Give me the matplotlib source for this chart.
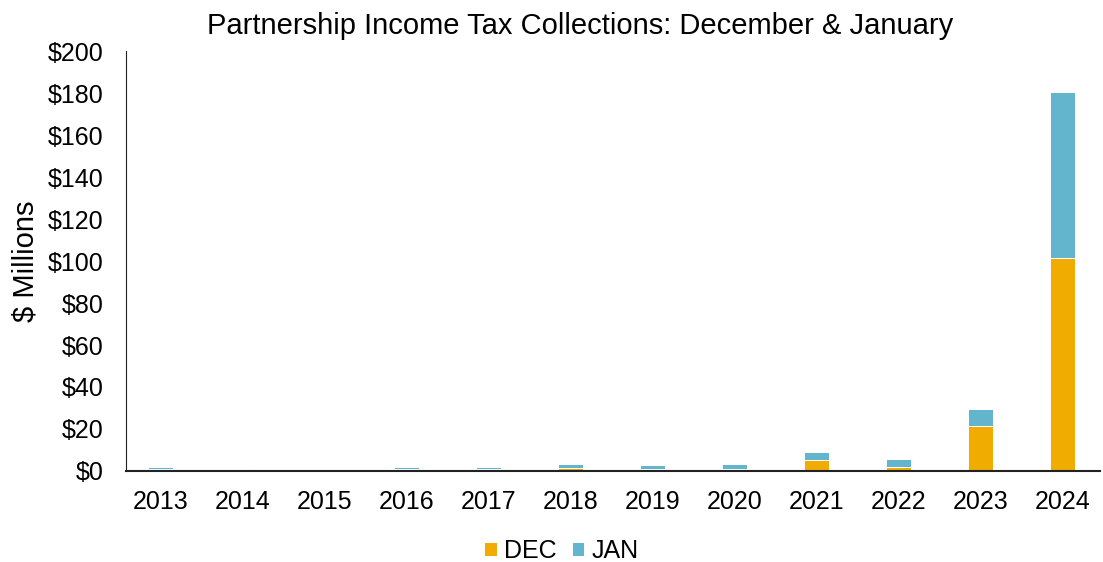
import numpy as np
import matplotlib
matplotlib.use("Agg")
from matplotlib import pyplot as plt

years = ['2013', '2014', '2015', '2016', '2017', '2018', '2019', '2020', '2021', '2022', '2023', '2024']
dec = [0.8, 0.1, 0.9, 0.9, 0.8, 1.3, 1.1, 1.1, 5.4, 1.9, 21.4, 101.4]
jan = [1.2, 0.8, 0.0, 1.1, 1.0, 2.0, 1.8, 2.4, 3.6, 3.8, 8.0, 79.0]

plt.rcParams['font.family'] = ['Liberation Sans', 'DejaVu Sans']

fig = plt.figure(figsize=(11.03, 5.62), dpi=100)
ax = fig.add_axes([0.114, 0.162, 0.883, 0.747])

x = np.arange(len(years))
ax.bar(x, dec, width=0.3, color='#F0AC00', edgecolor='white', linewidth=0.7, label='DEC')
ax.bar(x, jan, width=0.3, bottom=dec, color='#62B5CC', edgecolor='white', linewidth=0.7, label='JAN')

ax.set_xlim(-0.42, 11.45)
ax.set_ylim(0, 200)
ax.set_yticks(range(0, 201, 20))
ax.set_yticklabels(['${}'.format(v) for v in range(0, 201, 20)])
ax.set_xticks(x)
ax.set_xticklabels(years)
ax.tick_params(axis='both', labelsize=18, length=0)
ax.tick_params(axis='x', pad=14)
ax.tick_params(axis='y', pad=16)

for s in ['top', 'right']:
    ax.spines[s].set_visible(False)
ax.spines['left'].set_color('#222222')
ax.spines['bottom'].set_color('#222222')
ax.spines['bottom'].set_linewidth(1.5)

ax.set_ylabel('$ Millions', fontsize=21, labelpad=6)
ax.set_title('Partnership Income Tax Collections: December & January', fontsize=21, pad=12, x=0.467)

fig.legend(loc='center', ncol=2, bbox_to_anchor=(0.509, 0.02), frameon=False,
           fontsize=18, handlelength=0.5, handleheight=0.5, handletextpad=0.3, columnspacing=0.6)

fig.savefig('out.png', dpi=100)
